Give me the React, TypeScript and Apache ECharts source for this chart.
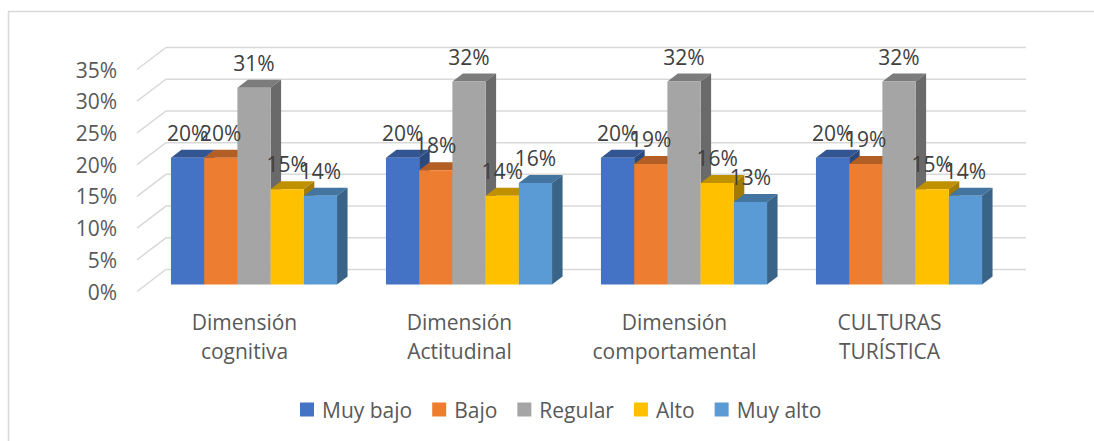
import React, { useEffect, useRef } from "react";
import * as echarts from "echarts";

const categories = ["Dimensión\ncognitiva", "Dimensión\nActitudinal", "Dimensión\ncomportamental", "CULTURAS\nTURÍSTICA"];
const muyBajo = [20, 20, 20, 20];
const bajo = [20, 18, 19, 19];
const regular = [31, 32, 32, 32];
const alto = [15, 14, 16, 15];
const muyAlto = [14, 16, 13, 14];
const yTicks = [0, 5, 10, 15, 20, 25, 30, 35];

const FONT = "'Open Sans', sans-serif";
const TEXT = "#595959";
const WALL = "#d9d9d9";

const shade = (hex: string, k: number) => {
  const n = parseInt(hex.slice(1), 16);
  const c = (s: number) => Math.round(((n >> s) & 255) * k);
  return `rgb(${c(16)},${c(8)},${c(0)})`;
};

const barSeries = (name: string, values: number[], color: string, idx: number) => ({
  type: "custom",
  name,
  itemStyle: { color },
  data: values.map((v, i) => [i, v]),
  encode: { x: 0, y: 1 },
  clip: false,
  silent: true,
  renderItem: (_: any, api: any) => {
    const cat = api.value(0);
    const v = api.value(1);
    const band = api.size([1, 0])[0];
    const cx = api.coord([cat, 0])[0] + 9.5;
    const w = band * 0.1545;
    const left = cx - 2.5 * w + idx * w;
    const right = left + w;
    const bottom = api.coord([cat, 0])[1] - 7;
    const top = api.coord([cat, v])[1] - 7;
    const dx = 10.5;
    const dy = 8;
    return {
      type: "group",
      children: [
        { type: "polygon", shape: { points: [[left, top], [right, top], [right + dx, top - dy], [left + dx, top - dy]] }, style: { fill: shade(color, 0.75) } },
        { type: "polygon", shape: { points: [[right, top], [right + dx, top - dy], [right + dx, bottom - dy], [right, bottom]] }, style: { fill: shade(color, 0.64) } },
        { type: "rect", shape: { x: left, y: top, width: w, height: bottom - top }, style: { fill: color } },
        {
          type: "text",
          z2: 100,
          style: { text: `${v}%`, x: (left + right) / 2, y: top - 25, align: "center", verticalAlign: "middle", fontSize: 21, fontFamily: FONT, fill: "#404040" },
        },
      ],
    };
  },
});

export default function App() {
  const ref = useRef<HTMLDivElement>(null);
  useEffect(() => {
    document.body.style.margin = "0";
    const chart = echarts.init(ref.current!, undefined, { renderer: "svg" });
    chart.setOption({
      animation: false,
      backgroundColor: "#fff",
      grid: { left: 137, right: 97, top: 69.5, bottom: 149.5 },
      graphic: [
        { type: "polyline", shape: { points: [[8.5, 441], [8.5, 11.5], [1094, 11.5]] }, style: { fill: "none", stroke: "#d9d9d9", lineWidth: 1.5 }, silent: true },
      ],
      legend: {
        data: ["Muy bajo", "Bajo", "Regular", "Alto", "Muy alto"],
        icon: "rect",
        itemWidth: 14,
        itemHeight: 14,
        itemGap: 20,
        left: 295,
        top: 394,
        textStyle: { fontSize: 21, fontFamily: FONT, color: TEXT, padding: [0, 0, 0, 3] },
      },
      xAxis: {
        type: "category",
        data: categories,
        axisLine: { show: false },
        axisTick: { show: false },
        axisLabel: { fontSize: 21, fontFamily: FONT, color: TEXT, lineHeight: 29, margin: 16, interval: 0 },
      },
      yAxis: {
        type: "value",
        min: 0,
        max: 35,
        interval: 5,
        axisLine: { show: false },
        axisTick: { show: false },
        splitLine: { show: false },
        axisLabel: { fontSize: 21, fontFamily: FONT, color: TEXT, margin: 20, formatter: "{value}%" },
      },
      series: [
        {
          type: "custom",
          name: "grid",
          data: yTicks.map((t) => [0, t]),
          encode: { x: 0, y: 1 },
          clip: false,
          silent: true,
          renderItem: (params: any, api: any) => {
            const sys = params.coordSys;
            const y = api.coord([0, api.value(1)])[1];
            return {
              type: "polyline",
              shape: { points: [[sys.x, y], [sys.x + 29, y - 22], [sys.x + sys.width + 29, y - 22]] },
              style: { stroke: WALL, fill: "none", lineWidth: 1.5 },
            };
          },
        },
        barSeries("Muy bajo", muyBajo, "#4472C4", 0),
        barSeries("Bajo", bajo, "#ED7D31", 1),
        barSeries("Regular", regular, "#A5A5A5", 2),
        barSeries("Alto", alto, "#FFC000", 3),
        barSeries("Muy alto", muyAlto, "#5B9BD5", 4),
      ],
    });
    return () => chart.dispose();
  }, []);
  return <div ref={ref} style={{ width: 1094, height: 441 }} />;
}
